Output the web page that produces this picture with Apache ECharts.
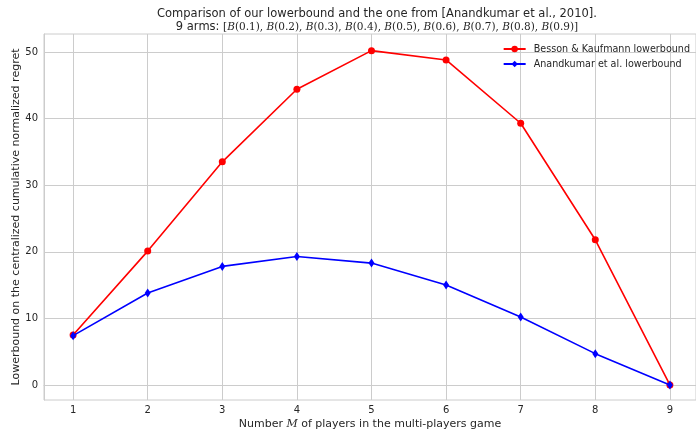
<!DOCTYPE html>
<html>
<head>
<meta charset="utf-8">
<script src="https://cdn.jsdelivr.net/npm/echarts@6/dist/echarts.min.js"></script>
<style>html,body{margin:0;padding:0;background:#fff}#c{width:696px;height:435px}</style>
</head>
<body>
<div id="c"></div>
<script>
const players = [1, 2, 3, 4, 5, 6, 7, 8, 9];
const bessonKaufmann = [7.5, 20.1, 33.5, 44.4, 50.2, 48.8, 39.3, 21.8, 0.0];
const anandkumar = [7.4, 13.8, 17.8, 19.3, 18.3, 15.0, 10.2, 4.7, 0.0];
const xTicks = [1, 2, 3, 4, 5, 6, 7, 8, 9];
const yTicks = [0, 10, 20, 30, 40, 50];
const armsTex = ['0.1', '0.2', '0.3', '0.4', '0.5', '0.6', '0.7', '0.8', '0.9'];

const font = 'DejaVu Sans';
const chart = echarts.init(document.getElementById('c'), null, {renderer: 'canvas'});

const armParts = armsTex.map(p => '{it|B}{m|(' + p + ')}').join('{m|, }');

chart.setOption({
  animation: false,
  backgroundColor: '#ffffff',
  title: {
    left: 372,
    textAlign: 'center',
    top: 3,
    text: 'Comparison of our lowerbound and the one from [Anandkumar et al., 2010].',
    textStyle: {fontFamily: font, fontSize: 11.5, fontWeight: 'normal', color: '#262626'},
    subtext: '{s|9 arms: }{m|[}' + armParts + '{m|]}',
    itemGap: 1,
    subtextStyle: {
      rich: {
        s: {fontFamily: font, fontSize: 11.5, color: '#262626'},
        m: {fontFamily: 'DejaVu Serif', fontSize: 10.5, color: '#262626'},
        it: {fontFamily: 'DejaVu Serif', fontStyle: 'italic', fontSize: 10.5, color: '#262626'}
      }
    }
  },
  grid: {left: 44, right: 0, top: 34, bottom: 35, containLabel: false, outerBoundsMode: 'none', show: true, borderColor: '#cccccc', borderWidth: 1},
  legend: {
    right: 1, top: 39, orient: 'vertical', itemWidth: 22, itemHeight: 8, itemGap: 5,
    textStyle: {fontFamily: font, fontSize: 9.6, color: '#262626', padding: [0, 0, 0, 3]},
    data: ['Besson & Kaufmann lowerbound', 'Anandkumar et al. lowerbound']
  },
  xAxis: {
    type: 'value', min: 0.61, max: 9.35,
    name: 'Number {i|M} of players in the multi-players game',
    nameLocation: 'middle', nameGap: 19, nameMoveOverlap: false,
    nameTextStyle: {fontFamily: font, fontSize: 11, color: '#262626',
      rich: {i: {fontFamily: 'DejaVu Serif', fontStyle: 'italic', fontSize: 11, color: '#262626'}}},
    axisLine: {show: true, lineStyle: {color: '#cccccc'}},
    axisTick: {show: false, customValues: xTicks},
    axisLabel: {customValues: xTicks, fontFamily: font, fontSize: 10, color: '#262626', margin: 5},
    splitLine: {show: true, lineStyle: {color: '#cccccc', width: 1}}
  },
  yAxis: {
    type: 'value', min: -2.26, max: 52.7,
    name: 'Lowerbound on the centralized cumulative normalized regret',
    nameLocation: 'middle', nameGap: 22, nameMoveOverlap: false,
    nameTextStyle: {fontFamily: font, fontSize: 11, color: '#262626'},
    axisLine: {show: true, lineStyle: {color: '#cccccc'}},
    axisTick: {show: false, customValues: yTicks},
    axisLabel: {customValues: yTicks, fontFamily: font, fontSize: 10, color: '#262626', margin: 6},
    splitLine: {show: true, lineStyle: {color: '#cccccc', width: 1}}
  },
  series: [
    {
      name: 'Besson & Kaufmann lowerbound', type: 'line',
      data: players.map((p, i) => [p, bessonKaufmann[i]]),
      symbol: 'circle', symbolSize: 7, showAllSymbol: true,
      lineStyle: {color: '#ff0000', width: 1.6},
      itemStyle: {color: '#ff0000'}, z: 2
    },
    {
      name: 'Anandkumar et al. lowerbound', type: 'line',
      data: players.map((p, i) => [p, anandkumar[i]]),
      symbol: 'diamond', symbolSize: [6, 9], showAllSymbol: true,
      lineStyle: {color: '#0000ff', width: 1.6},
      itemStyle: {color: '#0000ff'}, z: 3
    }
  ]
});
</script>
</body>
</html>
